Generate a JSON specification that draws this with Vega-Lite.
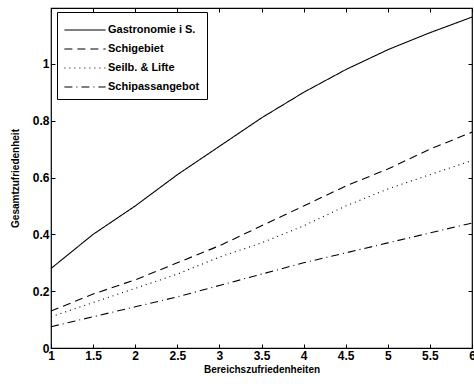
{
  "$schema": "https://vega.github.io/schema/vega-lite/v6.json",
  "width": 421,
  "height": 340,
  "autosize": "none",
  "padding": {"left": 51, "top": 8, "right": 2, "bottom": 36},
  "background": "white",
  "config": {
    "view": {"stroke": "black", "strokeWidth": 1.2},
    "font": "Liberation Sans",
    "axis": {"grid": false, "domain": false, "tickColor": "black", "tickSize": -4, "labelColor": "black", "labelFont": "Liberation Sans", "labelFontSize": 12, "titleFont": "Liberation Sans", "titleFontSize": 10, "titleFontWeight": "normal", "titleColor": "black", "format": "~g"}
  },
  "data": {"values": [
    {"x": 1, "y": 0.28, "s": "Gastronomie i  S."},
    {"x": 1.5, "y": 0.40, "s": "Gastronomie i  S."},
    {"x": 2, "y": 0.50, "s": "Gastronomie i  S."},
    {"x": 2.5, "y": 0.61, "s": "Gastronomie i  S."},
    {"x": 3, "y": 0.71, "s": "Gastronomie i  S."},
    {"x": 3.5, "y": 0.81, "s": "Gastronomie i  S."},
    {"x": 4, "y": 0.90, "s": "Gastronomie i  S."},
    {"x": 4.5, "y": 0.98, "s": "Gastronomie i  S."},
    {"x": 5, "y": 1.05, "s": "Gastronomie i  S."},
    {"x": 5.5, "y": 1.11, "s": "Gastronomie i  S."},
    {"x": 6, "y": 1.165, "s": "Gastronomie i  S."},
    {"x": 1, "y": 0.13, "s": "Schigebiet"},
    {"x": 1.5, "y": 0.19, "s": "Schigebiet"},
    {"x": 2, "y": 0.24, "s": "Schigebiet"},
    {"x": 2.5, "y": 0.30, "s": "Schigebiet"},
    {"x": 3, "y": 0.36, "s": "Schigebiet"},
    {"x": 3.5, "y": 0.43, "s": "Schigebiet"},
    {"x": 4, "y": 0.50, "s": "Schigebiet"},
    {"x": 4.5, "y": 0.57, "s": "Schigebiet"},
    {"x": 5, "y": 0.63, "s": "Schigebiet"},
    {"x": 5.5, "y": 0.70, "s": "Schigebiet"},
    {"x": 6, "y": 0.76, "s": "Schigebiet"},
    {"x": 1, "y": 0.11, "s": "Seilb. & Lifte"},
    {"x": 1.5, "y": 0.16, "s": "Seilb. & Lifte"},
    {"x": 2, "y": 0.21, "s": "Seilb. & Lifte"},
    {"x": 2.5, "y": 0.26, "s": "Seilb. & Lifte"},
    {"x": 3, "y": 0.32, "s": "Seilb. & Lifte"},
    {"x": 3.5, "y": 0.37, "s": "Seilb. & Lifte"},
    {"x": 4, "y": 0.43, "s": "Seilb. & Lifte"},
    {"x": 4.5, "y": 0.50, "s": "Seilb. & Lifte"},
    {"x": 5, "y": 0.56, "s": "Seilb. & Lifte"},
    {"x": 5.5, "y": 0.61, "s": "Seilb. & Lifte"},
    {"x": 6, "y": 0.66, "s": "Seilb. & Lifte"},
    {"x": 1, "y": 0.075, "s": "Schipassangebot"},
    {"x": 1.5, "y": 0.11, "s": "Schipassangebot"},
    {"x": 2, "y": 0.145, "s": "Schipassangebot"},
    {"x": 2.5, "y": 0.18, "s": "Schipassangebot"},
    {"x": 3, "y": 0.22, "s": "Schipassangebot"},
    {"x": 3.5, "y": 0.26, "s": "Schipassangebot"},
    {"x": 4, "y": 0.30, "s": "Schipassangebot"},
    {"x": 4.5, "y": 0.335, "s": "Schipassangebot"},
    {"x": 5, "y": 0.37, "s": "Schipassangebot"},
    {"x": 5.5, "y": 0.405, "s": "Schipassangebot"},
    {"x": 6, "y": 0.44, "s": "Schipassangebot"}
  ]},
  "resolve": {"axis": {"x": "independent", "y": "independent"}},
  "layer": [
    {
      "mark": {"type": "line", "color": "black", "strokeWidth": 1.1},
      "encoding": {
        "x": {"field": "x", "type": "quantitative", "scale": {"domain": [1, 6], "nice": false}, "title": "Bereichszufriedenheiten",
              "axis": {"orient": "bottom", "values": [1, 1.5, 2, 2.5, 3, 3.5, 4, 4.5, 5, 5.5, 6], "labelPadding": 6, "titlePadding": 3, "labelFlush": false, "labelFontWeight": "bold", "titleFontWeight": "bold"}},
        "y": {"field": "y", "type": "quantitative", "scale": {"domain": [0, 1.197], "nice": false}, "title": "Gesamtzufriedenheit",
              "axis": {"orient": "left", "values": [0, 0.2, 0.4, 0.6, 0.8, 1], "labelPadding": 6, "titlePadding": 12, "labelFontWeight": "bold", "titleFontWeight": "bold"}},
        "strokeDash": {"field": "s", "type": "nominal",
          "scale": {"domain": ["Gastronomie i  S.", "Schigebiet", "Seilb. & Lifte", "Schipassangebot"], "range": [[1, 0], [8, 5], [1, 4], [8, 4, 1, 4]]},
          "legend": {"title": null, "orient": "none", "legendX": 6, "legendY": 4, "symbolType": "M-2,0H2", "symbolSize": 425, "symbolOffset": 10, "symbolStrokeColor": "black", "symbolStrokeWidth": 1.1, "labelFontSize": 11, "labelFontWeight": "bold", "labelColor": "black", "labelFont": "Liberation Sans", "rowPadding": 3, "strokeColor": "black", "padding": 7, "fillColor": "white", "labelOffset": 12}}
      }
    },
    {
      "mark": {"type": "line", "opacity": 0},
      "encoding": {
        "x": {"field": "x", "type": "quantitative", "axis": {"orient": "top", "values": [1, 1.5, 2, 2.5, 3, 3.5, 4, 4.5, 5, 5.5, 6], "labels": false, "title": null}},
        "y": {"field": "y", "type": "quantitative", "axis": {"orient": "right", "values": [0, 0.2, 0.4, 0.6, 0.8, 1], "labels": false, "title": null}}
      }
    }
  ]
}
